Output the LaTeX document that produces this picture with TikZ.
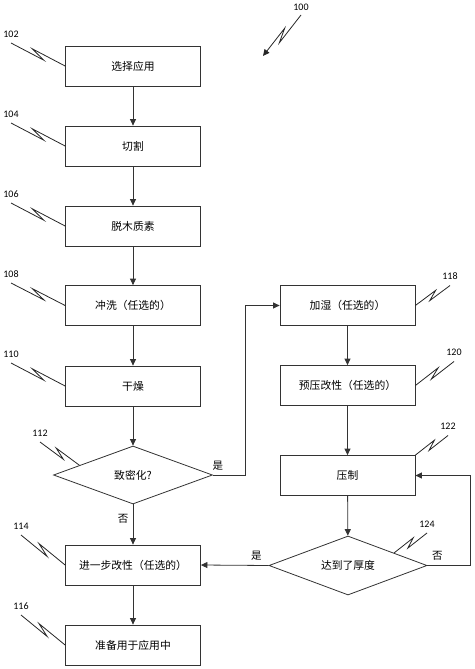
\documentclass[tikz,border=0pt]{standalone}
\usepackage{fontspec}
\setmainfont{Carlito}
\newfontfamily\cjk{Noto Sans CJK SC}
\usetikzlibrary{calc,shapes.geometric,arrows.meta}

% number, start of leader, end of leader, side of the two bends
\newcommand\refnum[5]{%
	\coordinate (s#1) at #2;
	\node[num] (r#1) at ($(s#1)+(0,-9)$) {#1};
	\draw[lead] (s#1) -- ($(s#1)!0.63!#3!3pt!#4:#3$) -- ($(s#1)!0.37!#3!3pt!#5:#3$) -- #3;
}

\begin{document}
\begin{tikzpicture}[x=1pt, y=-1pt,
	box/.style={draw=black!80, line width=0.8pt, minimum width=135pt, minimum height=40pt, inner sep=0pt, font=\cjk\fontsize{10.8}{13}\selectfont},
	dia/.style={draw=black!80, line width=0.8pt, diamond, aspect=2.7, inner sep=0pt, minimum width=159pt, minimum height=58pt, font=\cjk\fontsize{10.8}{13}\selectfont},
	flow/.style={draw=black!80, line width=0.8pt, -{Triangle[length=6.5pt,width=6pt]}},
	lbl/.style={font=\cjk\fontsize{10.5}{12}\selectfont},
	num/.style={font=\fontsize{10}{12}\selectfont, inner sep=0pt},
	lead/.style={draw=black!85, line width=0.8pt}]
	
	\useasboundingbox (0,0) rectangle (474,669);
	
	\node[box] (n102) at (133,66) {选择应用};
	\node[box] (n104) at (133,146) {切割};
	\node[box] (n106) at (133,226) {脱木质素};
	\node[box] (n108) at (133,305.5) {冲洗（任选的）};
	\node[box] (n110) at (133,386) {干燥};
	\node[dia] (n112) at (133,475) {致密化?};
	\node[box] (n114) at (133,565) {进一步改性（任选的）};
	\node[box] (n116) at (133,645) {准备用于应用中};
	
	\node[box] (n118) at (347.5,305.5) {加湿（任选的）};
	\node[box] (n120) at (347.5,385.5) {预压改性（任选的）};
	\node[box] (n122) at (347.5,475.5) {压制};
	\node[dia, minimum width=158pt, minimum height=59pt] (n124) at (348,565.5) {达到了厚度};
	
	\draw[flow] (n102) -- (n104);
	\draw[flow] (n104) -- (n106);
	\draw[flow] (n106) -- (n108);
	\draw[flow] (n108) -- (n110);
	\draw[flow] (n110) -- (n112);
	\draw[flow] (n112) -- node[lbl, left=1pt, pos=0.36] {否} (n114);
	\draw[flow] (n114) -- (n116);
	
	\draw[flow] (n112.east) -- node[lbl, above=1pt, pos=0.15] {是} ++(32.5,0) |- (n118.west);
	\draw[flow] (n118) -- (n120);
	\draw[flow] (n120) -- (n122);
	\draw[flow] (n122) -- (n124);
	\draw[flow] (n124.west) -- node[lbl, above=1pt, pos=0.18] {是} (n114.east);
	\draw[flow] (n124.east) -- node[lbl, above=1pt, pos=0.23] {否} ++(43,0) |- (n122.east);
	
	% reference numerals
	\coordinate (s100) at (301,15);
	\coordinate (a100) at (263,56);
	\node[num] (r100) at ($(s100)+(0,-8)$) {100};
	\draw[lead, -{Triangle[length=6.5pt,width=6pt]}] (s100) -- ($(s100)!0.63!(a100)!3pt!90:(a100)$) -- ($(s100)!0.37!(a100)!3pt!-90:(a100)$) -- (a100);
	
	\refnum{102}{(11,43)}{(n102.west)}{-90}{90}
	\refnum{104}{(11,123)}{(n104.west)}{-90}{90}
	\refnum{106}{(11,203)}{(n106.west)}{-90}{90}
	\refnum{108}{(11,283)}{(n108.west)}{-90}{90}
	\refnum{110}{(11,363)}{(n110.west)}{-90}{90}
	\refnum{112}{(40,442)}{($(n112.west)!0.33!(n112.north)$)}{-90}{90}
	\refnum{114}{(21,535)}{(n114.west)}{-90}{90}
	\refnum{116}{(21,615)}{(n116.west)}{-90}{90}
	
	\refnum{118}{(450,285.5)}{(n118.east)}{90}{-90}
	\refnum{120}{(454,361.5)}{(n120.east)}{90}{-90}
	\refnum{122}{(448,435.5)}{(n122.north east)}{90}{-90}
	\refnum{124}{(427,533)}{($(n124.north)!0.58!(n124.east)$)}{90}{-90}
	
\end{tikzpicture}
\end{document}
